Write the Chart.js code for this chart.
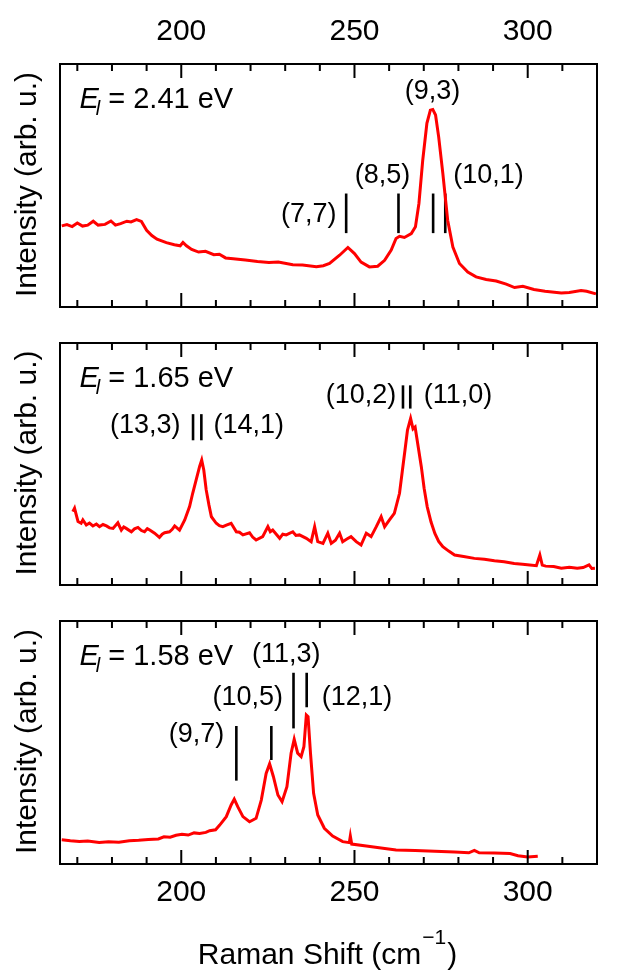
<!DOCTYPE html>
<html lang="en">
<head>
<meta charset="UTF-8">
<title>Raman spectra</title>
<script src="https://cdn.jsdelivr.net/npm/chart.js"></script>
<style>
    body { margin: 0; background: #fff; }
    #wrap { position: relative; width: 620px; height: 974px; }
    #wrap canvas { position: absolute; left: 0; top: 0; }
</style>
</head>
<body>
<div id="wrap">
    <canvas id="c1" width="620" height="974"></canvas>
    <canvas id="c2" width="620" height="974"></canvas>
    <canvas id="c3" width="620" height="974"></canvas>
</div>

<script>
// ---- data ----
const xMin = 165, xMax = 320;
const laserEnergy = ['2.41', '1.65', '1.58'];

// panel 1 : E = 2.41 eV
const p1Shift = [165.5,167.0,168.5,170.0,171.5,173.0,174.6,176.0,178.0,179.7,181.0,182.5,184.3,185.5,187.1,188.5,190.0,191.5,193.0,195.7,198.0,199.7,200.5,201.5,203.0,205.0,207.0,209.4,211.0,212.8,215.0,218.5,222.0,225.3,228.0,232.2,235.0,239.0,241.0,242.8,245.7,248.1,250.0,251.9,254.3,256.7,258.7,260.6,262.0,263.0,264.4,266.4,267.6,268.6,269.7,270.9,271.9,272.6,273.4,274.3,275.5,276.9,278.4,280.3,282.7,285.1,288.0,290.9,293.8,296.2,298.6,301.8,305.0,309.7,312.0,315.4,317.0,319.7];
const p1Int   = [33.4,33.9,33.1,34.6,33.3,33.7,35.3,33.7,34.0,35.4,33.7,34.3,35.3,35.0,36.0,35.2,31.6,29.4,27.9,26.5,25.6,25.2,26.6,25.2,23.7,22.6,22.9,21.5,21.7,20.2,19.9,19.3,18.7,18.3,18.5,17.4,17.3,16.6,17.0,17.9,21.3,24.5,22.0,18.5,16.5,16.8,19.2,23.4,28.2,29.1,28.6,30.2,33.0,42.6,60.4,75.6,81.0,81.3,79.0,70.0,55.0,35.7,24.7,17.9,14.4,12.4,11.3,10.7,9.4,8.0,8.5,7.2,6.5,5.8,6.0,6.8,6.5,5.4];
const p1MarkX  = [247.6, 262.7, 272.7, 276.2];
const p1MarkLo = [30.4, 30.4, 30.4, 30.4];
const p1MarkHi = [46.7, 46.7, 46.7, 46.7];
const p1Labels = ['(7,7)', '(8,5)', '(9,3)', '(10,1)'];
const p1LabelX = [236.8, 258.1, 272.5, 288.7];
const p1LabelY = [38.0, 54.3, 88.6, 54.3];

// panel 2 : E = 1.65 eV
const p2Shift = [168.7,169.2,170.2,171.1,171.6,172.6,173.5,174.5,175.5,176.4,177.4,178.4,179.3,180.3,181.7,182.7,183.4,184.1,185.6,186.5,187.5,188.5,189.4,190.2,190.9,192.3,193.7,194.5,195.2,196.6,197.4,198.1,199.5,201.0,202.4,203.3,204.3,205.3,205.9,206.5,207.2,208.0,208.7,210.1,211.0,212.0,213.2,214.4,215.9,216.8,217.8,219.7,220.6,221.6,223.5,225.0,225.7,226.4,228.4,229.3,230.3,232.2,233.1,234.1,236.1,237.5,238.5,239.4,240.9,242.3,243.3,244.5,245.7,246.6,247.8,249.0,250.5,251.9,253.4,254.8,256.3,257.7,258.7,260.1,261.5,263.0,263.8,264.6,265.3,266.2,266.9,267.5,268.4,269.3,270.1,271.0,272.1,273.2,274.3,275.5,277.2,278.9,281.5,284.6,287.5,290.4,293.2,296.1,298.5,300.6,302.5,303.5,304.2,305.2,307.5,309.7,312.0,314.3,316.0,317.7,318.5,319.4];
const p2Int   = [30.3,31.7,26.2,25.5,26.9,24.8,25.6,24.4,25.2,24.1,25.0,24.4,23.6,23.4,25.7,22.7,24.0,23.4,22.0,23.2,23.8,22.5,22.0,23.3,22.7,21.4,19.7,21.0,21.6,22.0,23.0,24.4,22.7,26.9,32.4,37.9,43.4,49.0,51.6,47.5,39.3,33.0,28.2,25.5,24.5,24.1,24.8,25.5,22.0,21.8,20.7,21.6,19.8,18.6,20.0,24.1,22.0,22.7,19.3,21.0,20.7,22.0,20.5,20.7,19.3,17.9,24.1,17.9,17.2,21.4,17.2,18.5,21.4,17.9,19.0,20.0,17.9,16.5,21.4,20.0,24.1,28.2,24.1,26.9,29.6,37.9,47.0,56.0,64.0,68.8,64.5,65.3,57.0,48.8,40.0,32.3,26.0,21.3,18.0,15.8,14.0,12.4,11.8,11.0,10.6,10.0,9.6,8.9,8.6,8.3,8.0,12.4,8.2,7.8,7.6,6.9,7.3,6.9,7.2,8.3,6.8,6.9];
const p2MarkX  = [203.4, 205.8, 264.0, 266.1];
const p2MarkLo = [59.8, 59.8, 72.9, 72.9];
const p2MarkHi = [70.6, 70.6, 82.5, 82.5];
const p2Labels = ['(13,3)', '(14,1)', '(10,2)', '(11,0)'];
const p2LabelX = [189.6, 219.5, 251.9, 279.9];
const p2LabelY = [66.0, 66.0, 78.4, 78.4];

// panel 3 : E = 1.58 eV
const p3Shift = [165.5,168.0,170.6,173.0,176.3,179.0,182.0,185.0,187.7,190.5,193.4,195.0,196.8,198.5,200.2,202.0,203.7,205.3,207.1,208.2,209.9,211.1,213.0,214.4,215.3,216.3,217.8,219.7,221.6,223.1,224.5,225.5,226.6,227.9,229.1,230.5,231.7,232.6,233.6,234.6,235.4,236.1,236.6,237.3,238.2,239.4,241.3,243.7,246.6,248.5,248.8,249.2,253.4,258.2,262.0,267.5,273.2,278.9,283.0,284.6,286.0,290.4,294.9,297.2,300.0,302.9];
const p3Int   = [10.0,9.6,9.3,9.5,8.9,9.2,9.0,9.6,9.8,10.1,10.3,11.2,11.0,11.8,12.2,11.9,12.8,12.6,13.0,13.7,14.1,16.0,19.5,24.3,26.7,23.6,19.5,17.4,18.8,26.3,37.3,41.2,35.9,28.4,25.6,31.8,45.6,51.3,45.6,44.2,48.3,61.3,60.6,45.6,29.1,20.2,14.7,11.5,9.2,8.8,11.5,8.2,7.4,6.5,5.8,5.6,5.2,4.9,4.6,5.6,4.6,4.5,4.3,3.4,2.9,3.2];
const p3MarkX  = [215.9, 226.0, 232.4, 236.2];
const p3MarkLo = [34.3, 42.8, 55.8, 64.5];
const p3MarkHi = [56.8, 56.8, 78.7, 78.7];
const p3Labels = ['(9,7)', '(10,5)', '(11,3)', '(12,1)'];
const p3LabelX = [204.4, 219.2, 230.3, 250.7];
const p3LabelY = [53.1, 68.5, 86.1, 68.5];
</script>

<script>
const FONT = "'Liberation Sans', Arial, Helvetica, sans-serif";
const LABEL_X_E = 170.6, LABEL_Y_E = 82;

// 패널 배치 (chart area in page pixels)
const panels = [
    { id: 'c1', shift: p1Shift, inten: p1Int, mx: p1MarkX, lo: p1MarkLo, hi: p1MarkHi,
      labels: p1Labels, lx: p1LabelX, ly: p1LabelY, energy: laserEnergy[0], top: 64, bottom: 307, axis: 'top' },
    { id: 'c2', shift: p2Shift, inten: p2Int, mx: p2MarkX, lo: p2MarkLo, hi: p2MarkHi,
      labels: p2Labels, lx: p2LabelX, ly: p2LabelY, energy: laserEnergy[1], top: 343, bottom: 585, axis: 'none' },
    { id: 'c3', shift: p3Shift, inten: p3Int, mx: p3MarkX, lo: p3MarkLo, hi: p3MarkHi,
      labels: p3Labels, lx: p3LabelX, ly: p3LabelY, energy: laserEnergy[2], top: 621, bottom: 864, axis: 'bottom' }
];

const decor = (p) => ({
    id: 'decor',
    afterDraw(chart) {
        const ctx = chart.ctx, a = chart.chartArea;
        const xs = chart.scales.x, ys = chart.scales.y;
        ctx.save();
        // frame + inward ticks
        ctx.strokeStyle = '#000';
        ctx.lineWidth = 2;
        ctx.strokeRect(a.left, a.top, a.right - a.left, a.bottom - a.top);
        for (let v = 170; v <= xMax; v += 10) {
            const px = xs.getPixelForValue(v);
            const len = v % 50 === 0 ? 14 : 7;
            ctx.beginPath();
            ctx.moveTo(px, a.top); ctx.lineTo(px, a.top + len);
            ctx.moveTo(px, a.bottom); ctx.lineTo(px, a.bottom - len);
            ctx.stroke();
        }
        ctx.fillStyle = '#000';

        // chirality labels
        ctx.font = '27px ' + FONT;
        ctx.textAlign = 'center';
        ctx.textBaseline = 'middle';
        p.labels.forEach((t, i) => {
            ctx.fillText(t, xs.getPixelForValue(p.lx[i]), ys.getPixelForValue(p.ly[i]));
        });

        // E_l = ... eV
        const ex = xs.getPixelForValue(LABEL_X_E), ey = ys.getPixelForValue(LABEL_Y_E);
        ctx.textAlign = 'left';
        ctx.textBaseline = 'alphabetic';
        ctx.font = 'italic 29px ' + FONT;
        ctx.fillText('E', ex, ey);
        const wE = ctx.measureText('E').width;
        ctx.font = 'italic 20px ' + FONT;
        ctx.fillText('l', ex + wE - 3, ey + 7);
        const wl = ctx.measureText('l').width;
        ctx.font = '29px ' + FONT;
        ctx.fillText(' = ' + p.energy + ' eV', ex + wE - 3 + wl, ey);

        // y title
        ctx.save();
        ctx.font = '30px ' + FONT;
        ctx.translate(35.5, (a.top + a.bottom) / 2 - 1);
        ctx.rotate(-Math.PI / 2);
        ctx.textAlign = 'center';
        ctx.fillText('Intensity (arb. u.)', 0, 0);
        ctx.restore();

        // x title (bottom panel only)
        if (p.axis === 'bottom') {
            const main = 'Raman Shift (cm', sup = '\u22121', close = ')';
            ctx.font = '30px ' + FONT;
            const w1 = ctx.measureText(main).width, w3 = ctx.measureText(close).width;
            ctx.font = '21px ' + FONT;
            const w2 = ctx.measureText(sup).width;
            let x0 = (a.left + a.right) / 2 - 2 - (w1 + w2 + w3) / 2;
            const base = 964;
            ctx.font = '30px ' + FONT;
            ctx.fillText(main, x0, base);
            ctx.font = '21px ' + FONT;
            ctx.fillText(sup, x0 + w1 + 1, base - 20);
            ctx.font = '30px ' + FONT;
            ctx.fillText(close, x0 + w1 + w2 + 2, base);
        }
        ctx.restore();
    }
});

panels.forEach(p => {
    // 스펙트럼 + 표시선
    const datasets = [{
        data: p.shift.map((x, i) => ({ x: x, y: p.inten[i] })),
        borderColor: '#ff0000',
        borderWidth: 3,
        pointRadius: 0,
        tension: 0
    }];
    p.mx.forEach((x, i) => {
        datasets.push({
            data: [{ x: x, y: p.lo[i] }, { x: x, y: p.hi[i] }],
            borderColor: '#000',
            borderWidth: 2.6,
            pointRadius: 0
        });
    });

    const shown = p.axis !== 'none';
    const xAxis = {
        type: 'linear',
        position: p.axis === 'top' ? 'top' : 'bottom',
        display: shown,
        min: xMin,
        max: xMax,
        grid: { display: false, drawTicks: false },
        border: { display: false },
        ticks: {
            stepSize: 10,
            autoSkip: false,
            maxRotation: 0,
            padding: p.axis === 'top' ? 14 : 11,
            color: '#000',
            font: { family: FONT, size: 30 },
            callback: v => (v % 50 === 0 ? String(v) : '')
        }
    };
    if (shown) {
        xAxis.afterFit = s => { s.height = p.axis === 'top' ? 64 : 50; };
    }

    let padTop = p.top, padBottom = 974 - p.bottom;
    if (p.axis === 'top') padTop = 0;
    if (p.axis === 'bottom') padBottom = 974 - p.bottom - 50;

    new Chart(document.getElementById(p.id), {
        type: 'line',
        data: { datasets: datasets },
        options: {
            responsive: false,
            animation: false,
            events: [],
            layout: { padding: { left: 60, right: 23, top: padTop, bottom: padBottom } },
            plugins: { legend: { display: false }, tooltip: { enabled: false } },
            scales: {
                x: xAxis,
                y: { display: false, min: 0, max: 100 }
            }
        },
        plugins: [decor(p)]
    });
});
</script>
</body>
</html>
